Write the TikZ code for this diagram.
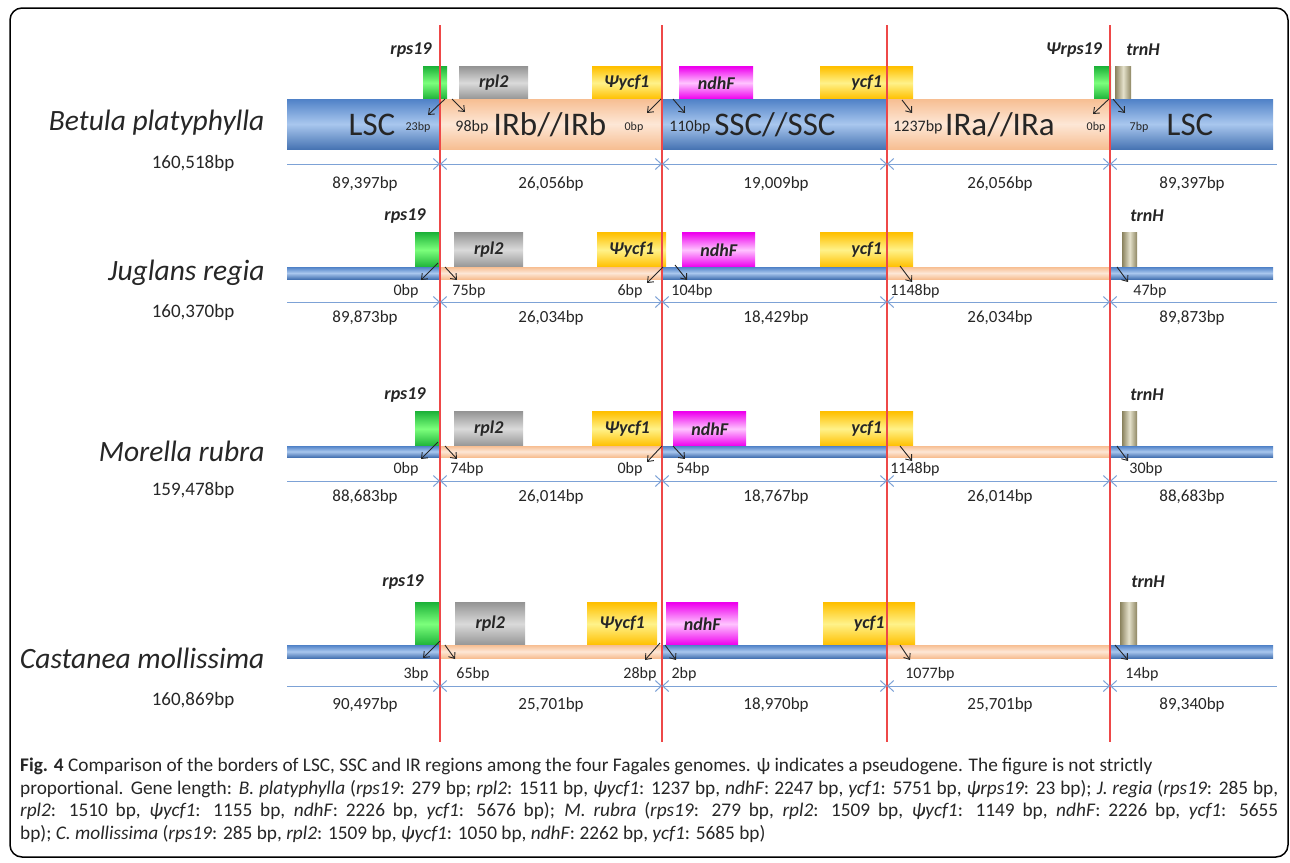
\documentclass[tikz,border=0pt]{standalone}
\usepackage{fontspec}
\setmainfont{Carlito}
\usepackage{tikz}
\usetikzlibrary{arrows.meta,calc}
\definecolor{lscc}{HTML}{4F81C7}
\definecolor{lscl}{HTML}{A9C7EE}
\definecolor{irc}{HTML}{F7BE92}
\definecolor{irl}{HTML}{FDE7D6}
\definecolor{borderc}{HTML}{EE4848}
\definecolor{dimc}{HTML}{7DA2D6}
\definecolor{txtc}{HTML}{262626}
\definecolor{greenc}{HTML}{1FB43A}
\definecolor{greenl}{HTML}{7CFF7C}
\definecolor{greyc}{HTML}{969696}
\definecolor{greyl}{HTML}{DADADA}
\definecolor{yellc}{HTML}{FFC000}
\definecolor{yelll}{HTML}{FFF28A}
\definecolor{magc}{HTML}{EE00EE}
\definecolor{magl}{HTML}{FFC4FF}
\definecolor{trnc}{HTML}{8C8460}
\definecolor{trnl}{HTML}{E4E1CB}
\tikzset{
  lsc/.style={top color=lscc, bottom color=lscc!90!black, middle color=lscl},
  ir/.style={top color=irc, bottom color=irc, middle color=irl},
  gbox/.style={anchor=south west, inner sep=0pt, text=txtc,
               font=\fontsize{18}{18}\selectfont\bfseries\itshape},
  grn/.style={gbox, top color=greenc, bottom color=greenc, middle color=greenl},
  gry/.style={gbox, top color=greyc, bottom color=greyc, middle color=greyl},
  yel/.style={gbox, top color=yellc, bottom color=yellc, middle color=yelll},
  mag/.style={gbox, top color=magc, bottom color=magc, middle color=magl},
  trn/.style={gbox, left color=trnc, right color=trnc, middle color=trnl},
  glab/.style={text=txtc, font=\fontsize{18}{18}\selectfont\bfseries\itshape},
  spn/.style={anchor=east, text=txtc, font=\fontsize{29.5}{30}\selectfont\itshape},
  tot/.style={text=txtc, font=\fontsize{19}{19}\selectfont},
  reg/.style={text=txtc, inner sep=0pt, font=\fontsize{33}{33}\selectfont},
  bp/.style={text=txtc, inner sep=1pt, font=\fontsize{16}{16}\selectfont},
  bps/.style={text=txtc, inner sep=1pt, font=\fontsize{12}{12}\selectfont},
  len/.style={text=txtc, font=\fontsize{17}{17}\selectfont},
  border/.style={draw=borderc, line width=1.4pt},
  dim/.style={draw=dimc, line width=1pt},
  tick/.style={draw=black!85, line width=0.9pt, -{Straight Barb[length=5pt,width=8pt]}},
}
\begin{document}
\begin{tikzpicture}[x=1pt, y=-1pt,
  dtip/.tip={Straight Barb[length=6pt,width=11pt]}]
  \useasboundingbox (0,0) rectangle (1290,862);
  \draw[line width=1.5pt, rounded corners=12pt] (10,8) rectangle (1288,857);
  % genome bars, one row per species
  \foreach \t/\b in {99/149, 267/279, 446/457, 645/658} {
    \shade[lsc] (287,\t) rectangle (440,\b);
    \shade[ir] (440,\t) rectangle (662,\b);
    \shade[lsc] (662,\t) rectangle (887,\b);
    \shade[ir] (887,\t) rectangle (1110,\b);
    \shade[lsc] (1110,\t) rectangle (1273,\b);
  }
  % Betula platyphylla
  \node[grn, minimum width=24pt, minimum height=32pt] (rpsA) at (423,99) {};
  \node[gry, minimum width=69pt, minimum height=32pt] (rplA) at (459,99) {rpl2};
  \node[yel, minimum width=69pt, minimum height=32pt] (ycpA) at (592,99) {Ψycf1};
  \node[mag, minimum width=74pt, minimum height=32pt] (ndhA) at (679,99) {ndhF};
  \node[yel, minimum width=93pt, minimum height=32pt] (ycfA) at (820,99) {ycf1};
  \node[grn, minimum width=17pt, minimum height=32pt] (rppA) at (1094,99) {};
  \node[trn, minimum width=16pt, minimum height=32pt] (trnA) at (1115,99) {};
  \node[glab] (rpsAl) at (411,50) {rps19};
  \node[glab] (rppAl) at (1074,50) {Ψrps19};
  \node[glab] (trnAl) at (1143,50) {trnH};
  \node[spn] (spA) at (268,123) {Betula platyphylla};
  \node[tot] (totA) at (193,163) {160,518bp};
  \node[reg] (lscA) at (372,125) {LSC};
  \node[reg] (irbA) at (550,125) {IRb//IRb};
  \node[reg] (sscA) at (775,125) {SSC//SSC};
  \node[reg] (iraA) at (1000,125) {IRa//IRa};
  \node[reg] (lsdA) at (1190,125) {LSC};
  \node[bps] (bpA1) at (418,127) {23bp};
  \node[bp] (bpA2) at (472,127) {98bp};
  \node[bps] (bpA3) at (634,127) {0bp};
  \node[bp] (bpA4) at (690,127) {110bp};
  \node[bp] (bpA5) at (918,127) {1237bp};
  \node[bps] (bpA6) at (1096,127) {0bp};
  \node[bps] (bpA7) at (1139,127) {7bp};
  % Juglans regia
  \node[grn, minimum width=25pt, minimum height=34pt] (rpsB) at (415,267) {};
  \node[gry, minimum width=69pt, minimum height=34pt] (rplB) at (454,267) {rpl2};
  \node[yel, minimum width=69pt, minimum height=34pt] (ycpB) at (597,267) {Ψycf1};
  \node[mag, minimum width=73pt, minimum height=34pt] (ndhB) at (682,267) {ndhF};
  \node[yel, minimum width=93pt, minimum height=34pt] (ycfB) at (820,267) {ycf1};
  \node[trn, minimum width=15pt, minimum height=34pt] (trnB) at (1122,267) {};
  \node[glab] (rpsBl) at (405,216) {rps19};
  \node[glab] (trnBl) at (1147,216) {trnH};
  \node[spn] (spB) at (268,273) {Juglans regia};
  \node[tot] (totB) at (193,312) {160,370bp};
  \node[bp] (bpB1) at (406,291) {0bp};
  \node[bp] (bpB2) at (469,291) {75bp};
  \node[bp] (bpB3) at (630,291) {6bp};
  \node[bp] (bpB4) at (692,291) {104bp};
  \node[bp] (bpB5) at (915,291) {1148bp};
  \node[bp] (bpB6) at (1150,291) {47bp};
  % Morella rubra
  \node[grn, minimum width=25pt, minimum height=34pt] (rpsC) at (415,446) {};
  \node[gry, minimum width=69pt, minimum height=34pt] (rplC) at (454,446) {rpl2};
  \node[yel, minimum width=70pt, minimum height=34pt] (ycpC) at (592,446) {Ψycf1};
  \node[mag, minimum width=73pt, minimum height=34pt] (ndhC) at (673,446) {ndhF};
  \node[yel, minimum width=93pt, minimum height=34pt] (ycfC) at (820,446) {ycf1};
  \node[trn, minimum width=15pt, minimum height=34pt] (trnC) at (1122,446) {};
  \node[glab] (rpsCl) at (405,395) {rps19};
  \node[glab] (trnCl) at (1147,395) {trnH};
  \node[spn] (spC) at (268,451) {Morella rubra};
  \node[tot] (totC) at (193,490) {159,478bp};
  \node[bp] (bpC1) at (406,469) {0bp};
  \node[bp] (bpC2) at (467,469) {74bp};
  \node[bp] (bpC3) at (630,469) {0bp};
  \node[bp] (bpC4) at (693,469) {54bp};
  \node[bp] (bpC5) at (915,469) {1148bp};
  \node[bp] (bpC6) at (1146,469) {30bp};
  % Castanea mollissima
  \node[grn, minimum width=24pt, minimum height=42pt] (rpsD) at (415,645) {};
  \node[gry, minimum width=70pt, minimum height=42pt] (rplD) at (455,645) {rpl2};
  \node[yel, minimum width=70pt, minimum height=42pt] (ycpD) at (587,645) {Ψycf1};
  \node[mag, minimum width=72pt, minimum height=42pt] (ndhD) at (666,645) {ndhF};
  \node[yel, minimum width=92pt, minimum height=42pt] (ycfD) at (823,645) {ycf1};
  \node[trn, minimum width=17pt, minimum height=42pt] (trnD) at (1120,645) {};
  \node[glab] (rpsDl) at (403,582) {rps19};
  \node[glab] (trnDl) at (1148,582) {trnH};
  \node[spn] (spD) at (268,658) {Castanea mollissima};
  \node[tot] (totD) at (193,700) {160,869bp};
  \node[bp] (bpD1) at (416,674) {3bp};
  \node[bp] (bpD2) at (473,674) {65bp};
  \node[bp] (bpD3) at (640,674) {28bp};
  \node[bp] (bpD4) at (684,674) {2bp};
  \node[bp] (bpD5) at (930,674) {1077bp};
  \node[bp] (bpD6) at (1142,674) {14bp};
  % borders between regions
  \foreach \x in {440,662,887,1110}
    \draw[border] (\x,25) -- (\x,742);
  % region lengths
  \foreach \r/\y/\l/\a/\b/\c/\d/\e in {A/164/184/89{,}397/26{,}056/19{,}009/26{,}056/89{,}397,
      B/302/318/89{,}873/26{,}034/18{,}429/26{,}034/89{,}873,
      C/481/497/88{,}683/26{,}014/18{,}767/26{,}014/88{,}683,
      D/686/705/90{,}497/25{,}701/18{,}970/25{,}701/89{,}340} {
    \foreach \i/\x in {0/287,1/440,2/662,3/887,4/1110,5/1277}
      \coordinate (d\r\i) at (\x,\y);
    \draw[dim, -dtip] (d\r0) -- (d\r1);
    \draw[dim, dtip-dtip] (d\r1) -- (d\r2);
    \draw[dim, dtip-dtip] (d\r2) -- (d\r3);
    \draw[dim, dtip-dtip] (d\r3) -- (d\r4);
    \draw[dim, dtip-] (d\r4) -- (d\r5);
    \node[len] (len\r1) at (365,\l) {\a bp};
    \node[len] (len\r2) at (551,\l) {\b bp};
    \node[len] (len\r3) at (776,\l) {\c bp};
    \node[len] (len\r4) at (1000,\l) {\d bp};
    \node[len] (len\r5) at (1192,\l) {\e bp};
  }
  % junction arrows
  \foreach \n/\sx/\sy/\ex/\ey in {A1/445/99/428/115, A2/452/99/465/112, A3/661/99/647/113,
      A4/673/99/685/113, A5/902/100/912/113, A6/1109/99/1093/114, A7/1113/99/1125/113,
      B1/438/263/421/280, B2/445/267/457/280, B3/663/267/647/283, B4/675/265/687/280,
      B5/900/266/912/282, B6/1117/267/1128/282,
      C1/438/442/421/459, C2/445/446/457/459, C3/662/446/647/462, C4/673/446/685/459,
      C5/900/446/912/461, C6/1117/446/1128/461,
      D1/440/641/423/658, D2/445/645/455/659, D3/660/643/645/660, D4/665/645/676/660,
      D5/900/645/910/660, D6/1115/645/1128/660} {
    \coordinate (j\n) at (\sx,\sy);
    \coordinate (t\n) at (\ex,\ey);
    \draw[tick] (j\n) -- (t\n);
  }
  % caption
  \node[anchor=north west, inner sep=0pt, text width=1258pt, align=justify, text=txtc,
        font=\fontsize{19.3}{22.5}\selectfont] (cap) at (20,758)
    {\textbf{Fig. 4} Comparison of the borders of LSC, SSC and IR regions among the four Fagales genomes. ψ indicates a pseudogene. The figure is not strictly\newline
     proportional. Gene length: \textit{B. platyphylla} (\textit{rps19}: 279 bp; \textit{rpl2}: 1511 bp, \textit{ψycf1}: 1237 bp, \textit{ndhF}: 2247 bp, \textit{ycf1}: 5751 bp, \textit{ψrps19}: 23 bp); \textit{J. regia} (\textit{rps19}: 285 bp,\linebreak
     \textit{rpl2}: 1510 bp, \textit{ψycf1}: 1155 bp, \textit{ndhF}: 2226 bp, \textit{ycf1}: 5676 bp); \textit{M. rubra} (\textit{rps19}: 279 bp, \textit{rpl2}: 1509 bp, \textit{ψycf1}: 1149 bp, \textit{ndhF}: 2226 bp, \textit{ycf1}: 5655\linebreak
     bp); \textit{C. mollissima} (\textit{rps19}: 285 bp, \textit{rpl2}: 1509 bp, \textit{ψycf1}: 1050 bp, \textit{ndhF}: 2262 bp, \textit{ycf1}: 5685 bp)};
\end{tikzpicture}
\end{document}
